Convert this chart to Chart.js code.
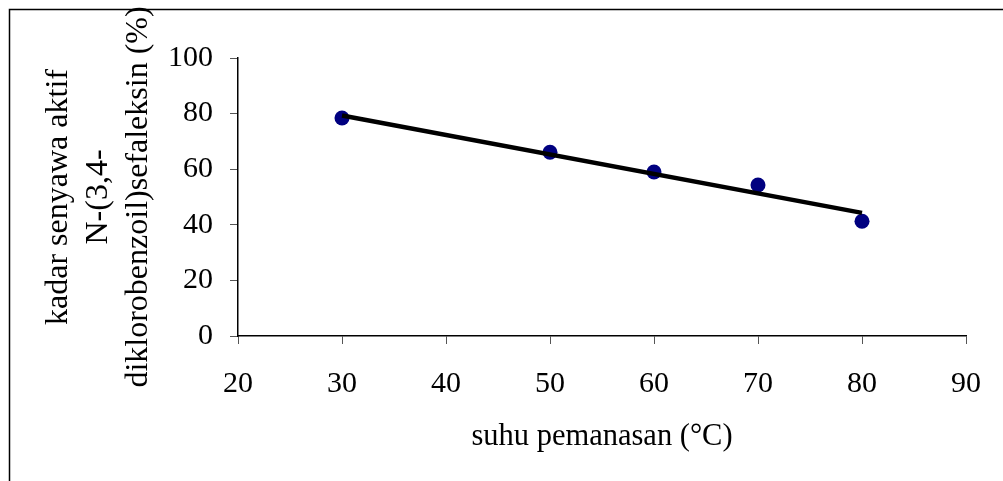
<!DOCTYPE html>
<html>
<head>
<meta charset="utf-8">
<script src="https://cdn.jsdelivr.net/npm/chart.js@4"></script>
<style>
  html, body { margin: 0; padding: 0; background: #fff; }
  #wrap { width: 1003px; height: 481px; position: relative; }
</style>
</head>
<body>
<div id="wrap"><canvas id="chart" width="1003" height="481"></canvas></div>
<script>
// data
const suhu = [30, 50, 60, 70, 80];
const kadar = [78.4, 66.1, 59.0, 54.3, 41.3];
const trendX = [30, 80];
const trendY = [79.3, 44.3];
const xTicks = [20, 30, 40, 50, 60, 70, 80, 90];
const yTicks = [0, 20, 40, 60, 80, 100];

const font = "'Liberation Serif', 'Times New Roman', serif";

//frame lines on top and left
const framePlugin = {
    id: 'frame',
    beforeDraw(chart) {
        const ctx = chart.ctx;
        ctx.save();
        ctx.strokeStyle = '#000';
        ctx.lineWidth = 1.5;
        ctx.beginPath();
        ctx.moveTo(9.5, 481);
        ctx.lineTo(9.5, 9.5);
        ctx.lineTo(1003, 9.5);
        ctx.stroke();
        ctx.restore();
    }
};

const ctx = document.getElementById('chart').getContext('2d');
new Chart(ctx, {
    type: 'scatter',
    data: {
        datasets: [
            {
                label: 'trend',
                data: trendX.map((x, i) => ({x: x, y: trendY[i]})),
                showLine: true,
                borderColor: '#000',
                borderWidth: 4.5,
                pointRadius: 0,
                order: 0
            },
            {
                label: 'kadar',
                data: suhu.map((x, i) => ({x: x, y: kadar[i]})),
                backgroundColor: '#000080',
                borderColor: '#000080',
                pointRadius: 7.5,
                borderWidth: 0,
                order: 1
            }
        ]
    },
    options: {
        responsive: false,
        animation: false,
        layout: {padding: {left: 0, top: 58, right: 32, bottom: 0}},
        plugins: {legend: {display: false}, tooltip: {enabled: false}},
        scales: {
            x: {
                type: 'linear',
                min: 20,
                max: 90,
                afterBuildTicks: axis => { axis.ticks = xTicks.map(v => ({value: v})); },
                afterFit: axis => { axis.height = 145; },
                grid: {drawOnChartArea: false, tickLength: 8, color: '#555', tickColor: '#555'},
                border: {color: '#000', width: 1.5},
                ticks: {color: '#000', padding: 22, font: {family: font, size: 30}},
                title: {
                    display: true,
                    text: 'suhu pemanasan (°C)',
                    color: '#000',
                    font: {family: font, size: 30.5},
                    padding: {top: 0, bottom: 26}
                }
            },
            y: {
                type: 'linear',
                min: 0,
                max: 100,
                afterBuildTicks: axis => { axis.ticks = yTicks.map(v => ({value: v})); },
                afterFit: axis => { axis.width = 238; },
                grid: {drawOnChartArea: false, tickLength: 8, color: '#555', tickColor: '#555'},
                border: {color: '#000', width: 1.5},
                ticks: {color: '#000', padding: 17, font: {family: font, size: 30}},
                title: {
                    display: true,
                    text: ['kadar senyawa aktif', 'N-(3,4-', 'diklorobenzoil)sefaleksin (%)'],
                    color: '#000',
                    font: {family: font, size: 32, lineHeight: 1.25},
                    padding: {top: 39, bottom: 0}
                }
            }
        }
    },
    plugins: [framePlugin]
});
</script>
</body>
</html>
